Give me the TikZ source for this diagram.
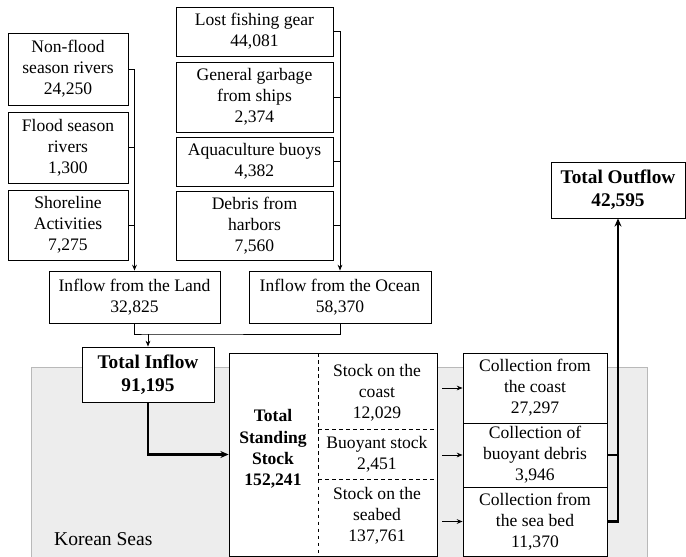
\documentclass[tikz,border=0pt]{standalone}
\usepackage{fontspec}
\setmainfont{Liberation Serif}
\usetikzlibrary{arrows.meta}
\begin{document}
\begin{tikzpicture}[x=0.03cm,y=-0.03cm,
    box/.style={draw,line width=0.7pt,align=center,inner sep=0pt,
        font=\fontsize{15}{17.8}\selectfont},
    size/.style 2 args={minimum width=#1*0.03cm,minimum height=#2*0.03cm},
    bigbox/.style={box,font=\fontsize{16.5}{19.5}\selectfont\bfseries},
    link/.style={line width=0.7pt,-{Stealth[length=5pt,width=4pt]}},
    flow/.style={line width=2pt,-{Stealth[length=7pt,width=6pt]}}]
\useasboundingbox (0,0) rectangle (686,557);
% the sea
\fill[gray!14,draw=gray!55,line width=0.8pt] (31,557) -- (31,367) -- (647,367) -- (647,557);
\node[anchor=base west,font=\fontsize{16.7}{20}\selectfont] (seas) at (50,545) {Korean Seas};
% land sources
\node[box,size={120}{72}] (nonflood) at (68,69) {Non-flood\\season rivers\\24,250};
\node[box,size={120}{71}] (flood) at (68,147.5) {Flood season\\rivers\\1,300};
\node[box,size={120}{70}] (shore) at (68,225) {Shoreline\\Activities\\7,275};
% ocean sources
\node[box,size={157}{49}] (gear) at (254.5,31.5) {Lost fishing gear\\44,081};
\node[box,size={157}{70}] (garbage) at (254.5,97) {General garbage\\from ships\\2,374};
\node[box,size={157}{49}] (buoys) at (254.5,161.5) {Aquaculture buoys\\4,382};
\node[box,size={157}{69}] (harbor) at (254.5,225.5) {Debris from\\harbors\\7,560};
% inflows
\node[box,fill=white,size={171}{52}] (land) at (134.5,297) {Inflow from the Land\\32,825};
\node[box,fill=white,size={182}{52}] (ocean) at (340,297) {Inflow from the Ocean\\58,370};
\node[bigbox,fill=white,size={132}{55}] (inflow) at (148,374.5) {Total Inflow\\91,195};
% standing stock
\node[box,fill=white,size={208}{203}] (stock) at (333,454.5) {};
\node[box,draw=none,font=\fontsize{15}{18.3}\selectfont\bfseries] (total) at (273,449) {Total\\Standing\\Stock\\152,241};
\draw[dashed,line width=0.7pt] (318,353) -- (318,556);
\draw[dashed,line width=0.7pt] (318,429) -- (437,429);
\draw[dashed,line width=0.7pt] (318,479) -- (437,479);
\node[box,draw=none] (coast) at (377,393) {Stock on the\\coast\\12,029};
\node[box,draw=none] (buoyant) at (377,454) {Buoyant stock\\2,451};
\node[box,draw=none] (seabed) at (377,516) {Stock on the\\seabed\\137,761};
% collections
\node[box,fill=white,size={144}{70}] (colcoast) at (535,388) {Collection from\\the coast\\27,297};
\node[box,fill=white,size={144}{64}] (colbuoy) at (535,455) {Collection of\\buoyant debris\\3,946};
\node[box,fill=white,size={144}{69}] (colbed) at (535,521.5) {Collection from\\the sea bed\\11,370};
\node[bigbox,fill=white,size={134}{56}] (outflow) at (618,190) {Total Outflow\\42,595};
% connectors
\draw[link] (nonflood.east) -| (land.north);
\draw[line width=0.7pt] (flood.east) -- (flood.east -| land.north);
\draw[line width=0.7pt] (shore.east) -- (shore.east -| land.north);
\draw[link] (gear.east) -| (ocean.north);
\draw[line width=0.7pt] (garbage.east) -- (garbage.east -| ocean.north);
\draw[line width=0.7pt] (buoys.east) -- (buoys.east -| ocean.north);
\draw[line width=0.7pt] (harbor.east) -- (harbor.east -| ocean.north);
\coordinate (join) at (148,334);
\draw[line width=0.7pt] (land.south) |- (join) -| (ocean.south);
\draw[link] (join) -- (inflow.north);
\draw[flow] (inflow.south) |- (stock.west);
\foreach \c in {colcoast,colbuoy,colbed}
    \draw[link] ([xshift=0.15cm]stock.east |- \c.west) -- (\c.west);
\draw[flow] (colbed.east) -| (outflow.south);
\draw[line width=2pt] (colbuoy.east) -- (colbuoy.east -| outflow.south);
\end{tikzpicture}
\end{document}
